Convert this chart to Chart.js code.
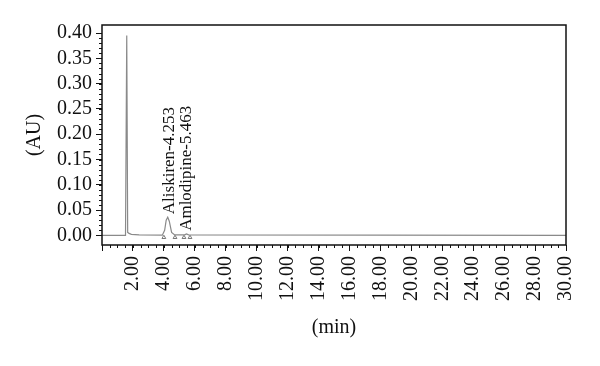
<!DOCTYPE html>
<html>
<head>
<meta charset="utf-8">
<style>
  html, body { margin: 0; padding: 0; background: #ffffff; }
  #wrap { width: 600px; height: 366px; }
</style>
</head>
<body>
  <div id="wrap"><canvas id="chrom"></canvas></div>

  <script src="https://cdn.jsdelivr.net/npm/chart.js"></script>
  <script>
    // chromatogram trace (time in min, absorbance in AU)
    const timeMin = [0, 1.52, 1.60, 1.66, 1.75, 1.90, 2.40, 3.90, 4.05, 4.15, 4.25, 4.35, 4.50, 4.70, 5.35, 5.46, 5.60, 30];
    const absAU = [0, 0, 0.395, 0.006, 0.004, 0.002, 0.001, 0.0005, 0.01, 0.030, 0.036, 0.028, 0.006, 0.001, 0.001, 0.003, 0.001, 0];
    // integration start/end markers on the baseline
    const markerTimes = [4.00, 4.72, 5.30, 5.69];
    const markerLevel = -0.004;
    // named peaks
    const peakNames = ['Aliskiren-4.253', 'Amlodipine-5.463'];
    const peakTimes = [4.253, 5.463];
    const peakHeights = [0.036, 0.003];

    const serif = '"Liberation Serif", "DejaVu Serif", serif';

    // frame, minor ticks and peak names
    const extras = {
      id: 'extras',
      afterDraw(chart) {
        let ctx = chart.ctx;
        let area = chart.chartArea;
        let xs = chart.scales.x;
        let ys = chart.scales.y;
        ctx.save();
        ctx.strokeStyle = '#111';
        ctx.lineWidth = 1.5;
        ctx.strokeRect(area.left, area.top, area.right - area.left, area.bottom - area.top);
        ctx.lineWidth = 1;
        ctx.beginPath();
        for (let v = 0; v <= 0.4001; v += 0.01) {
          let py = Math.round(ys.getPixelForValue(v)) + 0.5;
          ctx.moveTo(area.left - 3, py);
          ctx.lineTo(area.left, py);
        }
        for (let t = 0; t <= 30.001; t += 0.5) {
          let px = Math.round(xs.getPixelForValue(t)) + 0.5;
          ctx.moveTo(px, area.bottom);
          ctx.lineTo(px, area.bottom + 3);
        }
        ctx.stroke();
        // peak labels, rotated
        ctx.fillStyle = '#111';
        ctx.font = '17px ' + serif;
        ctx.textAlign = 'left';
        ctx.textBaseline = 'middle';
        for (let i = 0; i < peakNames.length; i++) {
          let px = xs.getPixelForValue(peakTimes[i]);
          let py = ys.getPixelForValue(peakHeights[i]);
          ctx.save();
          ctx.translate(px + (i === 0 ? 2 : 0), py - 3);
          ctx.rotate(-Math.PI / 2);
          ctx.fillText(peakNames[i], 0, 0);
          ctx.restore();
        }
        ctx.restore();
      }
    };

    const ctx = document.getElementById('chrom').getContext('2d');
    new Chart(ctx, {
      data: {
        datasets: [
          {
            type: 'line',
            data: timeMin.map((t, i) => ({ x: t, y: absAU[i] })),
            borderColor: '#8a8a8a',
            borderWidth: 1.2,
            pointRadius: 0,
            tension: 0
          },
          {
            type: 'scatter',
            data: markerTimes.map(t => ({ x: t, y: markerLevel })),
            pointStyle: 'triangle',
            pointRadius: 2.2,
            borderWidth: 1,
            borderColor: '#777',
            backgroundColor: '#fff'
          }
        ]
      },
      options: {
        responsive: true,
        maintainAspectRatio: false,
        animation: false,
        layout: { padding: { left: 0, top: 25, right: 34, bottom: 0 } },
        plugins: { legend: { display: false }, tooltip: { enabled: false } },
        scales: {
          x: {
            type: 'linear',
            min: 0,
            max: 30,
            afterFit: (s) => { s.height = 121; },
            border: { display: false },
            grid: { display: true, drawOnChartArea: false, tickLength: 6, color: '#111' },
            ticks: {
              stepSize: 2,
              includeBounds: false,
              minRotation: 90,
              maxRotation: 90,
              autoSkip: false,
              padding: 5,
              color: '#111',
              font: { family: serif, size: 20 },
              callback: (v) => v === 0 ? '' : v.toFixed(2)
            },
            title: {
              display: true,
              text: '(min)',
              color: '#111',
              font: { family: serif, size: 20 },
              padding: { top: 0, bottom: 26 }
            }
          },
          y: {
            type: 'linear',
            min: -0.019,
            max: 0.416,
            afterFit: (s) => { s.width = 102; },
            border: { display: false },
            grid: { display: true, drawOnChartArea: false, tickLength: 6, color: '#111' },
            ticks: {
              stepSize: 0.05,
              includeBounds: false,
              padding: 4,
              color: '#111',
              font: { family: serif, size: 20 },
              callback: (v) => v < -0.001 ? '' : Math.abs(v).toFixed(2)
            },
            title: {
              display: true,
              text: '(AU)',
              color: '#111',
              font: { family: serif, size: 20 },
              padding: { top: 23, bottom: 0 }
            }
          }
        }
      },
      plugins: [extras]
    });
  </script>
</body>
</html>
